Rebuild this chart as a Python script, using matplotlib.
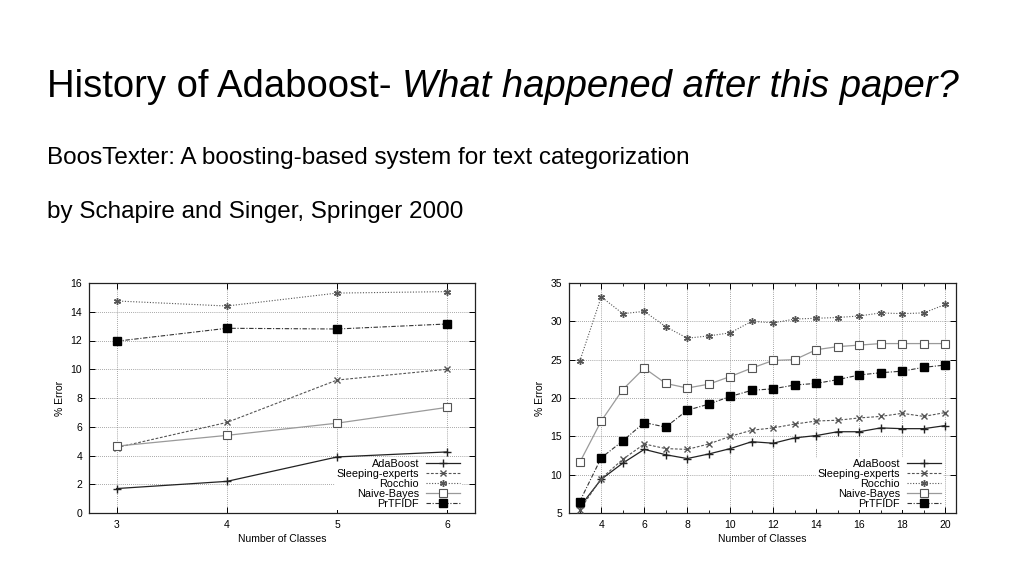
import matplotlib
matplotlib.use("Agg")
import matplotlib.pyplot as plt
from matplotlib.ticker import MultipleLocator

plt.rcParams['font.family'] = ['Liberation Sans', 'DejaVu Sans']

# ---- Data ----
series_names = ["AdaBoost", "Sleeping-experts", "Rocchio", "Naive-Bayes", "PrTFIDF"]

left_classes = [3, 4, 5, 6]
left_adaboost = [1.7, 2.2, 3.9, 4.25]
left_sleeping = [4.55, 6.3, 9.25, 10.0]
left_rocchio = [14.75, 14.4, 15.3, 15.4]
left_naive = [4.65, 5.4, 6.25, 7.35]
left_prtfidf = [11.95, 12.85, 12.8, 13.15]

right_classes = list(range(3, 21))
right_adaboost = [5.8, 9.4, 11.5, 13.3, 12.6, 12.1, 12.7, 13.4, 14.3, 14.1, 14.8, 15.1,
                  15.6, 15.6, 16.1, 16.0, 16.0, 16.4]
right_sleeping = [5.4, 9.5, 12.0, 14.0, 13.4, 13.3, 14.0, 15.0, 15.8, 16.1, 16.6, 17.0,
                  17.1, 17.4, 17.6, 18.0, 17.6, 18.1]
right_rocchio = [24.8, 33.2, 31.0, 31.3, 29.3, 27.8, 28.1, 28.5, 30.0, 29.8, 30.3, 30.4,
                 30.5, 30.7, 31.1, 31.0, 31.1, 32.2]
right_naive = [11.6, 17.0, 21.1, 23.9, 21.9, 21.3, 21.8, 22.8, 23.9, 24.9, 25.0, 26.3,
               26.7, 26.9, 27.1, 27.1, 27.1, 27.1]
right_prtfidf = [6.5, 12.2, 14.4, 16.8, 16.2, 18.4, 19.2, 20.2, 21.0, 21.2, 21.7, 21.9,
                 22.4, 23.0, 23.3, 23.5, 24.0, 24.3]

left_xticks = [3, 4, 5, 6]
left_yticks = [0, 2, 4, 6, 8, 10, 12, 14, 16]
right_xticks = [4, 6, 8, 10, 12, 14, 16, 18, 20]
right_yticks = [5, 10, 15, 20, 25, 30, 35]

xlabel = "Number of Classes"
ylabel = "% Error"

# ---- Styles ----
asterisk = (6, 2, 0)
styles = [
    dict(color="#222222", linestyle="-", marker="+", markersize=6, mfc="none", lw=0.9),
    dict(color="#555555", linestyle=(0, (2.5, 1.5)), marker="x", markersize=4.5, mfc="none", lw=0.8),
    dict(color="#555555", linestyle=(0, (1, 1.5)), marker=asterisk, markersize=5, mfc="none", lw=0.8),
    dict(color="#9a9a9a", linestyle="-", marker="s", markersize=5.5, mfc="white", mec="#555555", mew=0.8, lw=0.9),
    dict(color="#333333", linestyle=(0, (4, 1.5, 1, 1.5)), marker="s", markersize=5.5, mfc="black", mec="black", lw=0.8),
]

fig = plt.figure(figsize=(10.24, 5.76), dpi=100)
W, H = 1024, 576

# ---- Text ----
t1 = fig.text(47 / W, 1 - 97 / H, "History of Adaboost- ", fontsize=27.5, color="black",
              va="baseline", ha="left")
fig.canvas.draw()
bb = t1.get_window_extent(renderer=fig.canvas.get_renderer())
fig.text(bb.x1 / W, 1 - 97 / H, "What happened after this paper?", fontsize=27.5,
         style="italic", color="black", va="baseline", ha="left")
fig.text(47 / W, 1 - 164 / H, "BoosTexter: A boosting-based system for text categorization",
         fontsize=17.5, color="black", va="baseline", ha="left")
fig.text(47 / W, 1 - 218 / H, "by Schapire and Singer, Springer 2000",
         fontsize=17.5, color="black", va="baseline", ha="left")


def make_axes(rect, x, ys, xlim, ylim, xticks, yticks, legend_bbox):
    ax = fig.add_axes(rect)
    for name, y, st in zip(series_names, ys, styles):
        ax.plot(x, y, label=name, zorder=3, **st)
    ax.set_xlim(*xlim)
    ax.set_ylim(*ylim)
    ax.set_xticks(xticks)
    ax.set_yticks(yticks)
    ax.grid(True, color="#8a8a8a", linestyle=(0, (1, 1.5)), linewidth=0.6, zorder=0.5)
    ax.set_axisbelow(True)
    ax.tick_params(direction="in", length=4, width=0.7, labelsize=7.5, pad=5,
                   top=True, right=True)
    for s in ax.spines.values():
        s.set_linewidth(0.9)
        s.set_color("#222222")
    ax.set_xlabel(xlabel, fontsize=7.5, labelpad=3)
    ax.set_ylabel(ylabel, fontsize=7.5, labelpad=4)
    leg = ax.legend(loc="lower right", bbox_to_anchor=legend_bbox, fontsize=7.8,
                    markerfirst=False, frameon=True, facecolor="white", edgecolor="none",
                    framealpha=1, labelspacing=0.0, handlelength=3.2, handletextpad=0.6,
                    borderpad=0.15)
    leg.set_zorder(2)
    for t in leg.get_texts():
        t.set_ha("right")
    return ax


make_axes([89 / W, 1 - 513 / H, 386 / W, 230 / H], left_classes,
          [left_adaboost, left_sleeping, left_rocchio, left_naive, left_prtfidf],
          (2.75, 6.25), (0, 16), left_xticks, left_yticks, (0.98, -0.012))

ax2 = make_axes([569 / W, 1 - 513 / H, 387 / W, 230 / H], right_classes,
                [right_adaboost, right_sleeping, right_rocchio, right_naive, right_prtfidf],
                (2.5, 20.5), (5, 35), right_xticks, right_yticks, (0.98, -0.012))
ax2.xaxis.set_minor_locator(MultipleLocator(1))
ax2.tick_params(which="minor", direction="in", length=2, top=True)

fig.savefig("out.png", dpi=100, facecolor="white")
